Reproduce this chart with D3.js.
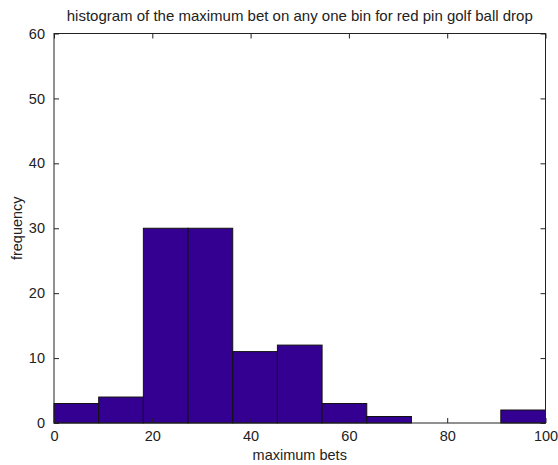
<!DOCTYPE html>
<html><head><meta charset="utf-8">
<script src="https://cdn.jsdelivr.net/npm/d3@7"></script>
<style>body{margin:0;background:#fff}svg{display:block}text{font-family:"Liberation Sans",Arial,sans-serif;fill:#222}</style>
</head><body>
<svg id="c" width="558" height="465"></svg>
<script>
const binEdges = [0, 9.0909, 18.1818, 27.2727, 36.3636, 45.4545, 54.5455, 63.6364, 72.7273, 81.8182, 90.9091, 100];
const counts = [3, 4, 30, 30, 11, 12, 3, 1, 0, 0, 2];
const xTicks = [0, 20, 40, 60, 80, 100];
const yTicks = [0, 10, 20, 30, 40, 50, 60];
const title = "histogram of the maximum bet on any one bin for red pin golf ball drop";
const xLabel = "maximum bets";
const yLabel = "frequency";

const svg = d3.select("#c");
const L = 54, R = 545.5, T = 33.5, B = 423;
const x = d3.scaleLinear().domain([0, 100]).range([L, R]);
const y = d3.scaleLinear().domain([0, 60]).range([B, T]);

const bins = counts.map((c, i) => ({x0: binEdges[i], x1: binEdges[i+1], c}));
svg.append("g").selectAll("rect").data(bins.filter(d => d.c > 0)).join("rect")
  .attr("x", d => x(d.x0)).attr("y", d => y(d.c))
  .attr("width", d => x(d.x1) - x(d.x0)).attr("height", d => y(0) - y(d.c))
  .attr("fill", "#330091").attr("stroke", "#111").attr("stroke-width", 1);

const tl = 5;
const axisStyle = g => { g.select(".domain").remove(); g.selectAll("line").attr("stroke", "#222"); g.selectAll("text").attr("font-size", 14.5).attr("fill", "#222").attr("font-family", "Liberation Sans, Arial, sans-serif"); };
svg.append("g").attr("transform", `translate(0,${B})`)
  .call(d3.axisBottom(x).tickValues(xTicks).tickSizeInner(-tl).tickSizeOuter(0).tickPadding(8).tickFormat(d3.format("d")))
  .call(axisStyle);
svg.append("g").attr("transform", `translate(0,${T})`)
  .call(d3.axisTop(x).tickValues(xTicks).tickSizeInner(-tl).tickSizeOuter(0).tickFormat(""))
  .call(axisStyle);
svg.append("g").attr("transform", `translate(${L},0)`)
  .call(d3.axisLeft(y).tickValues(yTicks).tickSizeInner(-tl).tickSizeOuter(0).tickPadding(9).tickFormat(d3.format("d")))
  .call(axisStyle);
svg.append("g").attr("transform", `translate(${R},0)`)
  .call(d3.axisRight(y).tickValues(yTicks).tickSizeInner(-tl).tickSizeOuter(0).tickFormat(""))
  .call(axisStyle);

svg.append("rect").attr("x", L).attr("y", T).attr("width", R - L).attr("height", B - T)
  .attr("fill", "none").attr("stroke", "#222").attr("stroke-width", 1);

svg.append("text").attr("x", (L + R) / 2).attr("y", 21).attr("text-anchor", "middle").attr("font-size", 15).text(title);
svg.append("text").attr("x", (L + R) / 2).attr("y", 460).attr("text-anchor", "middle").attr("font-size", 14.5).text(xLabel);
svg.append("text").attr("transform", `translate(22,${(T + B) / 2}) rotate(-90)`).attr("text-anchor", "middle").attr("font-size", 14.5).text(yLabel);
</script>
</body></html>
